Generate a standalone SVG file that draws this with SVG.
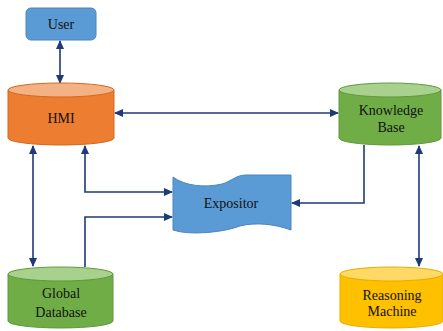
<svg xmlns="http://www.w3.org/2000/svg" width="443" height="331" viewBox="0 0 443 331">
<defs>
<marker id="ah" markerUnits="userSpaceOnUse" markerWidth="9" markerHeight="8" refX="8" refY="4" orient="auto-start-reverse">
<path d="M0,0 L9,4 L0,8 Z" fill="#1f3a78"/>
</marker>
</defs>
<style>
.c{fill:none;stroke:#1f3a78;stroke-width:1.6}
.a2{marker-start:url(#ah);marker-end:url(#ah)}
.a1{marker-end:url(#ah)}
.or{fill:#ed7d31;stroke:#d2691f;stroke-width:1}
.ort{fill:#f4b183;stroke:#d2691f;stroke-width:1}
.gr{fill:#70ad47;stroke:#5f9a3a;stroke-width:1}
.grt{fill:#a9d18e;stroke:#5f9a3a;stroke-width:1}
.ye{fill:#ffc000;stroke:#e6ad00;stroke-width:1}
.yet{fill:#ffd966;stroke:#e6ad00;stroke-width:1}
</style>
<g id="connectors">
<line class="c a2" x1="60" y1="41" x2="60" y2="83"/>
<line class="c a2" x1="115" y1="113" x2="338" y2="113"/>
<line class="c a2" x1="33" y1="146" x2="33" y2="266"/>
<path class="c a2" d="M85,146 V192 H172"/>
<path class="c a1" d="M85,267 V217 H172"/>
<path class="c a1" d="M364,145 V203 H292"/>
<line class="c a2" x1="419" y1="146" x2="419" y2="266"/>
</g>
<g font-family="'Liberation Serif', 'DejaVu Serif', serif" font-size="14" fill="#111" text-anchor="middle">
<g id="user">
<rect x="26" y="8" width="70" height="32" rx="5" fill="#5b9bd5" stroke="#4a86c0" stroke-width="1"/>
<text x="61" y="29">User</text>
</g>
<g id="hmi">
<path class="or" d="M8,90 V138 A53,7 0 0 0 114,138 V90 Z"/>
<ellipse class="ort" cx="61" cy="90" rx="53" ry="7"/>
<text x="61" y="123">HMI</text>
</g>
<g id="knowledge-base">
<path class="gr" d="M339,90 V138 A51,7 0 0 0 441,138 V90 Z"/>
<ellipse class="grt" cx="390" cy="90" rx="51" ry="7"/>
<text x="391" y="115">Knowledge</text>
<text x="391" y="132">Base</text>
</g>
<g id="expositor">
<path d="M173,177 C185,186 205,188 222,184 C232,181 236,175 246,175 L291,175 L291,230 C275,224 255,222 240,226 C225,232 190,236 173,230 Z" fill="#5b9bd5" stroke="#4a86c0" stroke-width="1"/>
<text x="231" y="208">Expositor</text>
</g>
<g id="global-database">
<path class="gr" d="M8,274 V321 A52.5,7 0 0 0 113,321 V274 Z"/>
<ellipse class="grt" cx="60.5" cy="274" rx="52.5" ry="7"/>
<text x="61" y="298">Global</text>
<text x="61" y="317">Database</text>
</g>
<g id="reasoning-machine">
<path class="ye" d="M340,274 V321 A51.5,7 0 0 0 443,321 V274 Z"/>
<ellipse class="yet" cx="391.5" cy="274" rx="51.5" ry="7"/>
<text x="392" y="300">Reasoning</text>
<text x="392" y="316">Machine</text>
</g>
</g>
</svg>
